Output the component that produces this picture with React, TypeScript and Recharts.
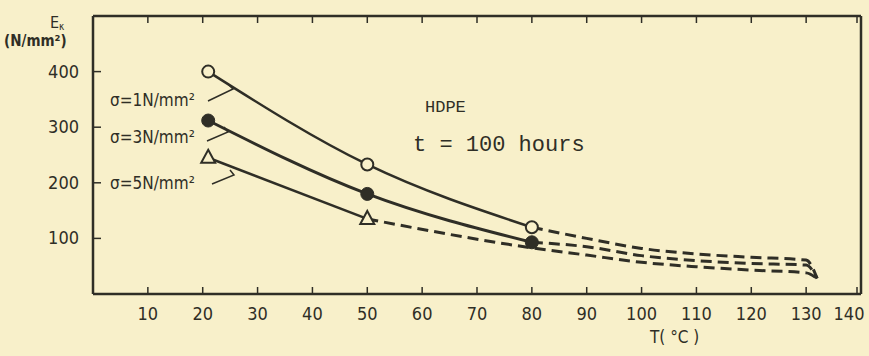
import { LineChart, Line, XAxis, YAxis } from 'recharts';

// temperatures (°C) at which the curves are read
const temps = [21, 50, 80, 90, 100, 110, 120, 130, 132];

// E_k (N/mm²), measured part (solid) and extrapolated part (dashed)
const s1Solid = [400, 233, 120, null, null, null, null, null, null];
const s1Dash = [null, null, 120, 100, 82, 72, 66, 61, 28];
const s3Solid = [312, 180, 93, null, null, null, null, null, null];
const s3Dash = [null, null, 93, 85, 69, 60, 55, 52, 28];
const s5Solid = [245, 135, null, null, null, null, null, null, null];
const s5Dash = [null, 135, 83, 70, 57, 49, 43, 38, 28];

const xTicks = [10, 20, 30, 40, 50, 60, 70, 80, 90, 100, 110, 120, 130, 140];
const yTicks = [100, 200, 300, 400];

const data = temps.map((t, i) => ({
  t,
  s1: s1Solid[i],
  s1d: s1Dash[i],
  s3: s3Solid[i],
  s3d: s3Dash[i],
  s5: s5Solid[i],
  s5d: s5Dash[i],
}));

const ink = '#2f2e26';
const paper = '#f8f0ca';
const tickFont = '"Liberation Sans Narrow", "DejaVu Sans Condensed", "Roboto", sans-serif';
const mono = '"Liberation Mono", "DejaVu Sans Mono", monospace';

const BottomTick = (p: any) => (
  <g>
    <line x1={p.x} x2={p.x} y1={p.y} y2={p.y - 7} stroke={ink} strokeWidth={1.5} />
    <text
      x={p.payload.value === 140 ? p.x - 8 : p.x}
      y={p.y + 26}
      textAnchor='middle'
      fontSize={18}
      fill={ink}
      fontFamily={tickFont}
    >
      {p.payload.value}
    </text>
  </g>
);

const TopTick = (p: any) => (
  <line x1={p.x} x2={p.x} y1={p.y} y2={p.y + 7} stroke={ink} strokeWidth={1.5} />
);

const LeftTick = (p: any) => (
  <g>
    <line x1={p.x} x2={p.x + 8} y1={p.y} y2={p.y} stroke={ink} strokeWidth={1.5} />
    <text x={p.x - 14} y={p.y + 6} textAnchor='end' fontSize={18} fill={ink} fontFamily={tickFont}>
      {p.payload.value}
    </text>
  </g>
);

const RightTick = (p: any) => (
  <line x1={p.x} x2={p.x - 7} y1={p.y} y2={p.y} stroke={ink} strokeWidth={2} />
);

const OpenCircle = (p: any) =>
  p.cy == null ? (
    <g key={p.key} />
  ) : (
    <circle key={p.key} cx={p.cx} cy={p.cy} r={6} fill={paper} stroke={ink} strokeWidth={2} />
  );

const FilledCircle = (p: any) =>
  p.cy == null ? (
    <g key={p.key} />
  ) : (
    <circle key={p.key} cx={p.cx} cy={p.cy} r={6.5} fill={ink} stroke={ink} strokeWidth={1} />
  );

const Triangle = (p: any) =>
  p.cy == null ? (
    <g key={p.key} />
  ) : (
    <path
      key={p.key}
      d={`M${p.cx},${p.cy - 8} L${p.cx + 7},${p.cy + 5} L${p.cx - 7},${p.cy + 5} Z`}
      fill={paper}
      stroke={ink}
      strokeWidth={2}
    />
  );

export default function App() {
  return (
    <div style={{ position: 'absolute', left: 0, top: 0, width: 869, height: 356, background: paper }}>
      <LineChart width={869} height={356} data={data} margin={{ top: 16, right: 8, left: 0, bottom: 0 }}>
        <XAxis
          dataKey='t'
          type='number'
          domain={[0, 140]}
          ticks={xTicks}
          height={62}
          tickSize={0}
          tickMargin={0}
          tickLine={false}
          tick={BottomTick}
          axisLine={{ stroke: ink, strokeWidth: 2.5 }}
        />
        <XAxis
          xAxisId='top'
          dataKey='t'
          type='number'
          orientation='top'
          mirror
          domain={[0, 140]}
          ticks={xTicks}
          height={1}
          tickSize={0}
          tickMargin={0}
          tickLine={false}
          tick={TopTick}
          axisLine={{ stroke: ink, strokeWidth: 2.5 }}
        />
        <YAxis
          type='number'
          domain={[0, 500]}
          ticks={yTicks}
          width={93}
          tickSize={0}
          tickMargin={0}
          tickLine={false}
          tick={LeftTick}
          axisLine={{ stroke: ink, strokeWidth: 2.5 }}
        />
        <YAxis
          yAxisId='right'
          orientation='right'
          mirror
          type='number'
          domain={[0, 500]}
          ticks={yTicks}
          width={1}
          tickSize={0}
          tickMargin={0}
          tickLine={false}
          tick={RightTick}
          axisLine={{ stroke: ink, strokeWidth: 2.5 }}
        />
        <Line dataKey='s1d' type='monotone' stroke={ink} strokeWidth={3} strokeDasharray='11 6' dot={false} isAnimationActive={false} />
        <Line dataKey='s3d' type='monotone' stroke={ink} strokeWidth={3} strokeDasharray='11 6' dot={false} isAnimationActive={false} />
        <Line dataKey='s5d' type='monotone' stroke={ink} strokeWidth={3} strokeDasharray='11 6' dot={false} isAnimationActive={false} />
        <Line dataKey='s1' type='monotone' stroke={ink} strokeWidth={2.5} dot={OpenCircle} isAnimationActive={false} />
        <Line dataKey='s3' type='monotone' stroke={ink} strokeWidth={3} dot={FilledCircle} isAnimationActive={false} />
        <Line dataKey='s5' type='monotone' stroke={ink} strokeWidth={2.5} dot={Triangle} isAnimationActive={false} />
      </LineChart>
      <svg
        width={869}
        height={356}
        style={{ position: 'absolute', left: 0, top: 0, pointerEvents: 'none' }}
      >
        <text x={50} y={28} fontSize={16} fill={ink} fontFamily={tickFont}>
          E<tspan fontSize={10} dy={2}>κ</tspan>
        </text>
        <text x={4} y={46} fontSize={15} fill={ink} fontFamily={tickFont} fontWeight='bold'>
          (N/mm²)
        </text>
        <text x={110} y={106} fontSize={17} fill={ink} fontFamily={tickFont}>σ=1N/mm²</text>
        <text x={110} y={143} fontSize={17} fill={ink} fontFamily={tickFont}>σ=3N/mm²</text>
        <text x={110} y={189} fontSize={17} fill={ink} fontFamily={tickFont}>σ=5N/mm²</text>
        <g stroke={ink} strokeWidth={1.5} fill='none'>
          <polyline points='208,101 233,89 228,84' />
          <polyline points='207,141 228,132 224,127' />
          <polyline points='212,184 234,175 230,170' />
        </g>
        <text x={425} y={112} fontSize={17} fill={ink} fontFamily={mono}>HDPE</text>
        <text x={413} y={151} fontSize={22} fill={ink} fontFamily={mono}>t = 100 hours</text>
        <text x={650} y={343} fontSize={17} fill={ink} fontFamily={tickFont}>T( °C )</text>
      </svg>
    </div>
  );
}
